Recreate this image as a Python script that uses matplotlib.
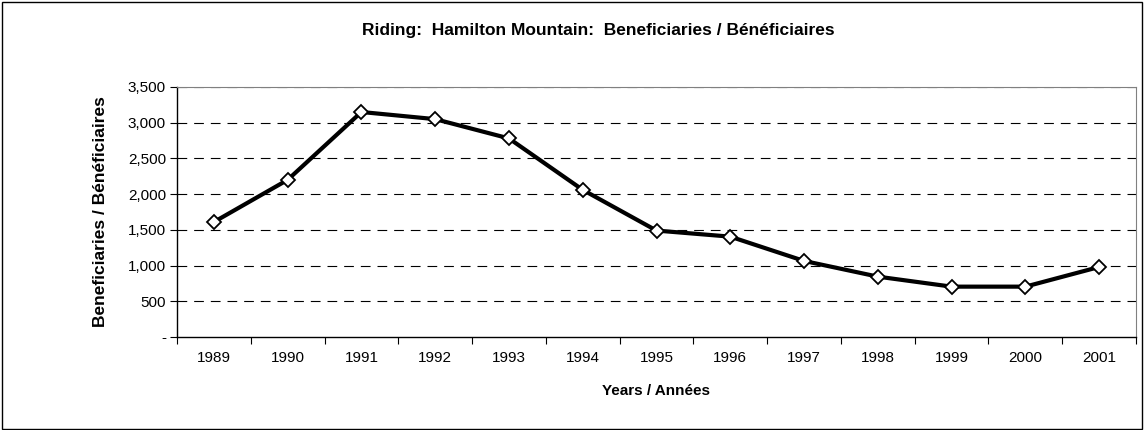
import matplotlib.pyplot as plt
from matplotlib.patches import Rectangle
from matplotlib.ticker import FixedLocator, FuncFormatter

years = ["1989", "1990", "1991", "1992", "1993", "1994", "1995",
         "1996", "1997", "1998", "1999", "2000", "2001"]
beneficiaries = [1610, 2200, 3150, 3050, 2780, 2060, 1490,
                 1405, 1065, 845, 705, 705, 980]
yticks = [0, 500, 1000, 1500, 2000, 2500, 3000, 3500]

plt.rcParams["font.family"] = ["Liberation Sans", "DejaVu Sans"]
plt.rcParams["lines.scale_dashes"] = False

fig = plt.figure(figsize=(11.45, 4.3), dpi=100)
ax = fig.add_axes([177 / 1145, 93 / 430, 959 / 1145, 250 / 430])

x = list(range(len(years)))
ax.plot(x, beneficiaries, color="black", lw=3.0, marker="D", ms=7,
        mfc="white", mec="black", mew=1.3, zorder=3)

ax.set_xlim(-0.5, len(years) - 0.5)
ax.set_ylim(0, 3500)
ax.set_yticks(yticks)
ax.yaxis.set_major_formatter(FuncFormatter(lambda v, p: "-" if v == 0 else f"{int(v):,}"))
for v in yticks[1:]:
    ax.axhline(v, color="black", lw=0.8, ls=(0, (7, 5)), zorder=1)

ax.set_xticks(x)
ax.set_xticklabels(years)
ax.xaxis.set_minor_locator(FixedLocator([i - 0.5 for i in range(len(years) + 1)]))
ax.tick_params(axis="x", which="major", length=0, pad=10, labelsize=11)
ax.tick_params(axis="x", which="minor", length=5, width=0.8, direction="out")
ax.tick_params(axis="y", length=5, width=0.8, direction="out", labelsize=11, pad=3)

for s in ["top", "right"]:
    ax.spines[s].set_color("#808080")
for s in ["left", "bottom"]:
    ax.spines[s].set_color("black")
    ax.spines[s].set_linewidth(1.0)

ax.set_ylabel("Beneficiaries / Bénéficiaires", fontsize=12.5, fontweight="bold", labelpad=14)
ax.set_xlabel("Years / Années", fontsize=11, fontweight="bold", labelpad=14)
fig.text(598 / 1145, 1 - 30 / 430, "Riding:  Hamilton Mountain:  Beneficiaries / Bénéficiaires",
         ha="center", va="center", fontsize=12.5, fontweight="bold")

fig.patches.append(Rectangle((2 / 1145, 0.002), 1140 / 1145, 0.993, transform=fig.transFigure,
                             fill=False, edgecolor="black", lw=1.0))

fig.savefig("out.png", dpi=100)
